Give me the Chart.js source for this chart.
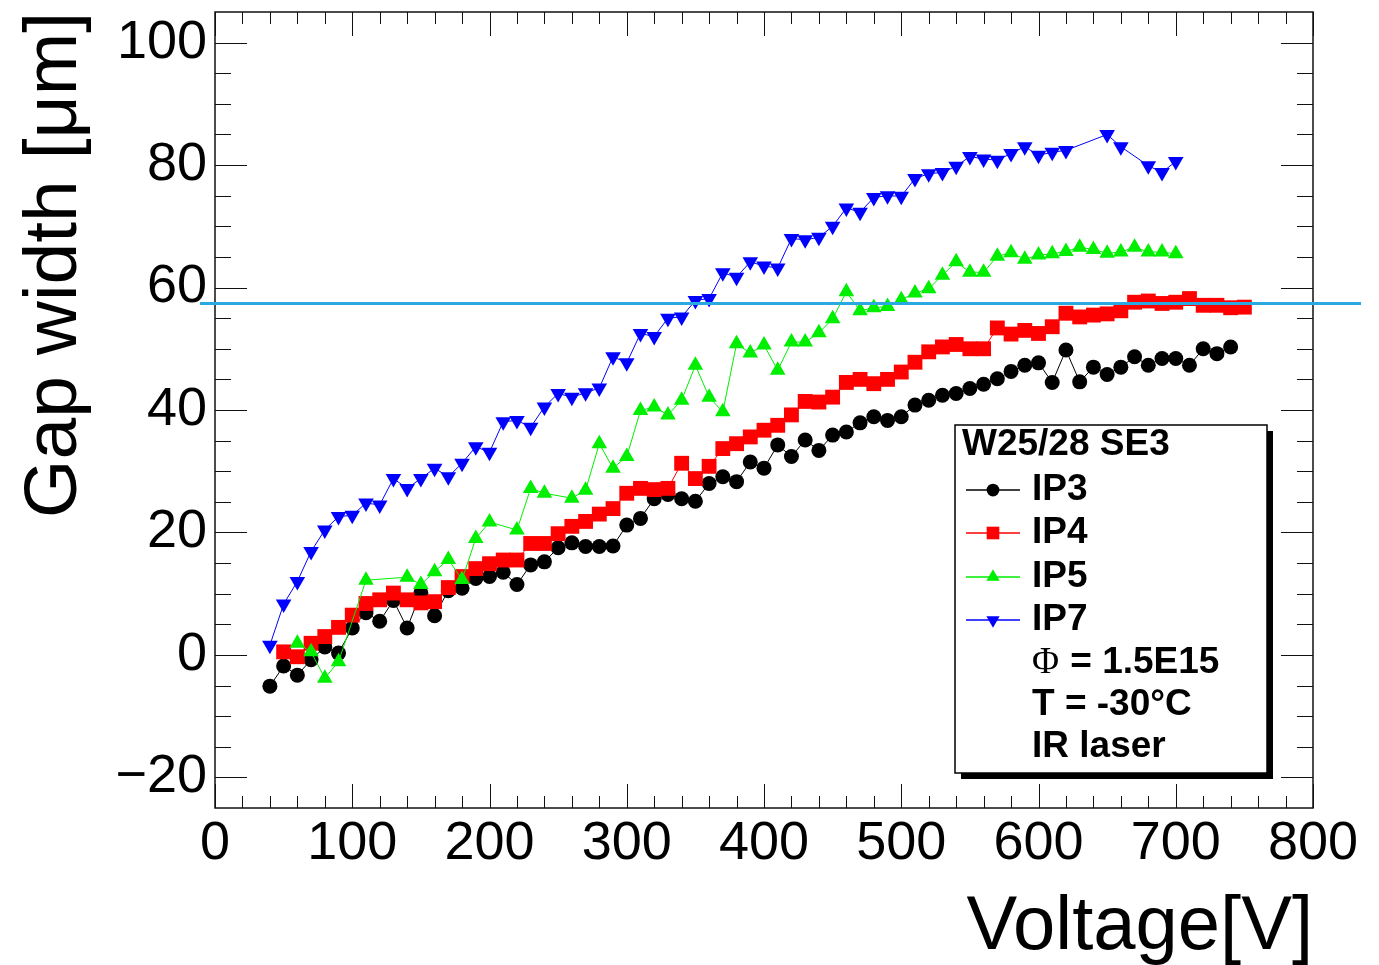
<!DOCTYPE html>
<html>
<head>
<meta charset="utf-8">
<script src="https://cdn.jsdelivr.net/npm/chart.js@4.4.0/dist/chart.umd.min.js"></script>
<style>
html, body { margin: 0; padding: 0; background: #fff; }
</style>
</head>
<body>
<canvas id="gapChart" width="1379" height="965"></canvas>
<script>
// Gap width vs. bias voltage, W25/28 SE3
const ip3Voltage = [40, 50, 60, 70, 80, 90, 100, 110, 120, 130, 140, 150, 160, 170, 180, 190, 200, 210, 220, 230, 240, 250, 260, 270, 280, 290, 300, 310, 320, 330, 340, 350, 360, 370, 380, 390, 400, 410, 420, 430, 440, 450, 460, 470, 480, 490, 500, 510, 520, 530, 540, 550, 560, 570, 580, 590, 600, 610, 620, 630, 640, 650, 660, 670, 680, 690, 700, 710, 720, 730, 740];
const ip3Gap = [-5.1, -1.8, -3.3, -0.8, 1.3, 0.3, 4.4, 6.9, 5.5, 8.9, 4.4, 10.1, 6.4, 10.5, 10.9, 12.5, 12.8, 13.5, 11.5, 14.7, 15.2, 17.5, 18.3, 17.7, 17.7, 17.8, 21.2, 22.3, 25.5, 26.2, 25.5, 25.1, 28.0, 29.1, 28.3, 31.5, 30.5, 34.3, 32.4, 35.1, 33.4, 35.9, 36.4, 37.9, 38.9, 38.3, 38.9, 40.8, 41.6, 42.4, 42.7, 43.5, 44.2, 45.1, 46.3, 47.3, 47.7, 44.5, 49.8, 44.6, 47.0, 45.8, 47.0, 48.7, 47.3, 48.4, 48.4, 47.3, 50.0, 49.2, 50.3];

const ip4Voltage = [50, 60, 70, 80, 90, 100, 110, 120, 130, 140, 150, 160, 170, 180, 190, 200, 210, 220, 230, 240, 250, 260, 270, 280, 290, 300, 310, 320, 330, 340, 350, 360, 370, 380, 390, 400, 410, 420, 430, 440, 450, 460, 470, 480, 490, 500, 510, 520, 530, 540, 550, 560, 570, 580, 590, 600, 610, 620, 630, 640, 650, 660, 670, 680, 690, 700, 710, 720, 730, 740, 750];
const ip4Gap = [0.5, -0.3, 1.9, 3.0, 4.5, 6.5, 8.4, 9.0, 10.1, 9.0, 8.5, 8.7, 11.0, 12.8, 14.1, 14.9, 15.5, 15.5, 18.2, 18.2, 19.8, 21.0, 21.8, 23.0, 23.9, 26.4, 27.2, 27.0, 27.2, 31.3, 28.8, 30.8, 33.7, 34.5, 35.6, 36.7, 37.5, 39.2, 41.4, 41.3, 42.1, 44.5, 45.0, 44.3, 45.0, 46.2, 47.8, 49.5, 50.3, 50.7, 50.0, 50.0, 53.4, 52.4, 53.0, 52.5, 53.6, 55.8, 55.2, 55.5, 55.7, 56.2, 57.6, 57.8, 57.4, 57.6, 58.2, 57.1, 57.1, 56.7, 56.8];

const ip5Voltage = [60, 70, 80, 90, 110, 140, 150, 160, 170, 180, 190, 200, 220, 230, 240, 260, 270, 280, 290, 300, 310, 320, 330, 340, 350, 360, 370, 380, 390, 400, 410, 420, 430, 440, 450, 460, 470, 480, 490, 500, 510, 520, 530, 540, 550, 560, 570, 580, 590, 600, 610, 620, 630, 640, 650, 660, 670, 680, 690, 700];
const ip5Gap = [1.9, 0.5, -3.8, -1.1, 12.2, 12.7, 11.5, 13.6, 15.6, 12.3, 19.0, 21.7, 20.4, 27.2, 26.4, 25.6, 26.9, 34.5, 30.5, 32.4, 39.9, 40.5, 39.2, 41.6, 47.3, 42.1, 39.7, 50.8, 49.3, 50.6, 46.5, 51.1, 51.1, 52.6, 54.9, 59.3, 56.2, 56.7, 56.9, 58.0, 59.1, 59.8, 62.0, 64.2, 62.5, 62.5, 65.1, 65.7, 64.6, 65.3, 65.5, 65.9, 66.6, 66.2, 65.6, 65.8, 66.6, 65.8, 65.8, 65.5];

const ip7Voltage = [40, 50, 60, 70, 80, 90, 100, 110, 120, 130, 140, 150, 160, 170, 180, 190, 200, 210, 220, 230, 240, 250, 260, 270, 280, 290, 300, 310, 320, 330, 340, 350, 360, 370, 380, 390, 400, 410, 420, 430, 440, 450, 460, 470, 480, 490, 500, 510, 520, 530, 540, 550, 560, 570, 580, 590, 600, 610, 620, 650, 660, 680, 690, 700];
const ip7Gap = [1.6, 8.3, 12.0, 16.9, 20.4, 22.6, 22.8, 24.8, 24.5, 28.8, 27.2, 28.8, 30.5, 29.1, 31.3, 34.0, 33.1, 38.1, 38.3, 37.2, 40.5, 42.7, 42.1, 42.8, 43.6, 48.7, 47.7, 52.5, 52.0, 55.0, 55.2, 57.9, 58.2, 62.4, 61.7, 64.2, 63.5, 63.2, 68.0, 67.8, 68.2, 70.0, 73.0, 72.3, 74.7, 75.0, 74.9, 77.8, 78.6, 78.8, 79.8, 81.4, 81.0, 80.8, 81.9, 83.0, 81.6, 82.1, 82.4, 85.0, 83.0, 79.9, 78.8, 80.6];

const seriesNames = ['IP3', 'IP4', 'IP5', 'IP7'];
const legendTitle = 'W25/28 SE3';
const legendNotes = ['= 1.5E15', 'T = -30°C', 'IR laser'];

const xTicks = [0, 100, 200, 300, 400, 500, 600, 700, 800];
const yTicks = [-20, 0, 20, 40, 60, 80, 100];
const xRange = [0, 800];
const yRange = [-25, 105];

// cyan reference level and how far it runs (in volts)
const refLevel = 57.4;
const refLineSpan = [-11, 835];

const FONT = '"Liberation Sans", Arial, Helvetica, sans-serif';

function toPoints(xs, ys) {
    return xs.map((v, i) => ({ x: v, y: ys[i] }));
}

const markerStyles = [
    { color: '#000000', pointStyle: 'circle', radius: 7.5, rotation: 0 },
    { color: '#ff0000', pointStyle: 'rect', radius: 10.5, rotation: 0 },
    { color: '#00ee00', pointStyle: 'triangle', radius: 9, rotation: 0 },
    { color: '#0000ff', pointStyle: 'triangle', radius: 9, rotation: 180 }
];

function makeDataset(i, xs, ys) {
    const m = markerStyles[i];
    return {
        label: seriesNames[i],
        data: toPoints(xs, ys),
        showLine: true,
        borderColor: m.color,
        borderWidth: 1,
        backgroundColor: m.color,
        pointBackgroundColor: m.color,
        pointBorderColor: m.color,
        pointBorderWidth: 0,
        pointRadius: m.radius,
        pointHoverRadius: m.radius,
        pointStyle: m.pointStyle,
        pointRotation: m.rotation,
        order: 4 - i
    };
}

const frameTicks = {
    id: 'frameTicks',
    afterDatasetsDraw(chart) {
        const { ctx, chartArea: a, scales: { x, y } } = chart;
        ctx.save();
        ctx.strokeStyle = '#111';
        ctx.lineWidth = 1;
        ctx.beginPath();
        for (let v = xRange[0]; v <= xRange[1]; v += 20) {
            const px = Math.round(x.getPixelForValue(v)) + 0.5;
            const len = v % 100 === 0 ? 24 : 12;
            ctx.moveTo(px, a.bottom); ctx.lineTo(px, a.bottom - len);
            ctx.moveTo(px, a.top); ctx.lineTo(px, a.top + len);
        }
        for (let v = -25; v <= yRange[1]; v += 5) {
            if (v <= yRange[0] || v >= yRange[1]) continue;
            const py = Math.round(y.getPixelForValue(v)) + 0.5;
            const len = v % 20 === 0 ? 32 : 16;
            ctx.moveTo(a.left, py); ctx.lineTo(a.left + len, py);
            ctx.moveTo(a.right, py); ctx.lineTo(a.right - len, py);
        }
        ctx.stroke();
        ctx.lineWidth = 1.5;
        ctx.strokeRect(a.left, a.top, a.right - a.left, a.bottom - a.top);

        // horizontal reference line
        const ry = y.getPixelForValue(refLevel);
        ctx.strokeStyle = '#2aa8e0';
        ctx.lineWidth = 3;
        ctx.beginPath();
        ctx.moveTo(x.getPixelForValue(refLineSpan[0]), ry);
        ctx.lineTo(x.getPixelForValue(refLineSpan[1]), ry);
        ctx.stroke();
        ctx.restore();
    }
};

const boxLegend = {
    id: 'boxLegend',
    afterDraw(chart) {
        const ctx = chart.ctx;
        const box = { left: 955, top: 425, width: 312, height: 348 };
        ctx.save();
        ctx.fillStyle = '#000';
        ctx.fillRect(box.left + 6, box.top + 6, box.width, box.height);
        ctx.fillStyle = '#fff';
        ctx.fillRect(box.left, box.top, box.width, box.height);
        ctx.strokeStyle = '#000';
        ctx.lineWidth = 1.5;
        ctx.strokeRect(box.left, box.top, box.width, box.height);

        ctx.textBaseline = 'middle';
        ctx.textAlign = 'left';
        ctx.fillStyle = '#000';
        ctx.font = 'bold 37px ' + FONT;
        ctx.fillText(legendTitle, 962, 445);

        const rowY = [490, 533, 577, 620];
        seriesNames.forEach((name, i) => {
            const m = markerStyles[i];
            ctx.strokeStyle = m.color;
            ctx.lineWidth = 1.5;
            ctx.beginPath();
            ctx.moveTo(966, rowY[i]);
            ctx.lineTo(1020, rowY[i]);
            ctx.stroke();
            ctx.save();
            ctx.fillStyle = m.color;
            ctx.beginPath();
            const r = m.radius * 0.85;
            if (m.pointStyle === 'circle') {
                ctx.arc(993, rowY[i], r, 0, Math.PI * 2);
            } else if (m.pointStyle === 'rect') {
                const s = r * Math.SQRT1_2;
                ctx.rect(993 - s, rowY[i] - s, 2 * s, 2 * s);
            } else {
                const dir = m.rotation ? -1 : 1;
                ctx.moveTo(993, rowY[i] - dir * r);
                ctx.lineTo(993 + r * 0.866, rowY[i] + dir * r * 0.5);
                ctx.lineTo(993 - r * 0.866, rowY[i] + dir * r * 0.5);
                ctx.closePath();
            }
            ctx.fill();
            ctx.restore();
            ctx.fillStyle = '#000';
            ctx.font = 'bold 37px ' + FONT;
            ctx.fillText(name, 1032, rowY[i]);
        });

        // Phi row: greek letter in a serif face
        ctx.font = '37px "Liberation Serif", "Times New Roman", serif';
        ctx.fillText('\u03A6', 1032, 663);
        const phiW = ctx.measureText('\u03A6 ').width;
        ctx.font = 'bold 37px ' + FONT;
        ctx.fillText(legendNotes[0], 1032 + phiW + 2, 663);
        ctx.fillText(legendNotes[1], 1032, 705);
        ctx.fillText(legendNotes[2], 1032, 747);
        ctx.restore();
    }
};

new Chart(document.getElementById('gapChart'), {
    type: 'scatter',
    data: {
        datasets: [
            makeDataset(0, ip3Voltage, ip3Gap),
            makeDataset(1, ip4Voltage, ip4Gap),
            makeDataset(2, ip5Voltage, ip5Gap),
            makeDataset(3, ip7Voltage, ip7Gap)
        ]
    },
    options: {
        responsive: false,
        animation: false,
        events: [],
        layout: { padding: { left: 0, right: 66, top: 12, bottom: 0 } },
        plugins: {
            legend: { display: false },
            tooltip: { enabled: false },
            title: { display: false }
        },
        scales: {
            x: {
                type: 'linear',
                min: xRange[0],
                max: xRange[1],
                afterFit: s => { s.height = 157; s.paddingLeft = 0; s.paddingRight = 0; },
                afterBuildTicks: s => { s.ticks = xTicks.map(v => ({ value: v })); },
                grid: { display: false, drawTicks: false },
                border: { display: false },
                ticks: {
                    padding: 4,
                    maxRotation: 0,
                    autoSkip: false,
                    color: '#000',
                    font: { family: FONT, size: 54 }
                },
                title: {
                    display: true,
                    text: 'Voltage[V]',
                    align: 'end',
                    color: '#000',
                    font: { family: FONT, size: 76 },
                    padding: { top: 0, bottom: -9 }
                }
            },
            y: {
                type: 'linear',
                min: yRange[0],
                max: yRange[1],
                afterFit: s => { s.width = 215; s.paddingTop = 0; s.paddingBottom = 0; },
                afterBuildTicks: s => { s.ticks = yTicks.map(v => ({ value: v })); },
                grid: { display: false, drawTicks: false },
                border: { display: false },
                ticks: {
                    padding: 8,
                    autoSkip: false,
                    color: '#000',
                    font: { family: FONT, size: 54 },
                    callback: v => v < 0 ? '\u2212' + Math.abs(v) : String(v)
                },
                title: {
                    display: true,
                    text: 'Gap width [\u03BCm]',
                    align: 'end',
                    color: '#000',
                    font: { family: FONT, size: 75 },
                    padding: { top: 10, bottom: 0 }
                }
            }
        }
    },
    plugins: [frameTicks, boxLegend]
});
</script>
</body>
</html>
